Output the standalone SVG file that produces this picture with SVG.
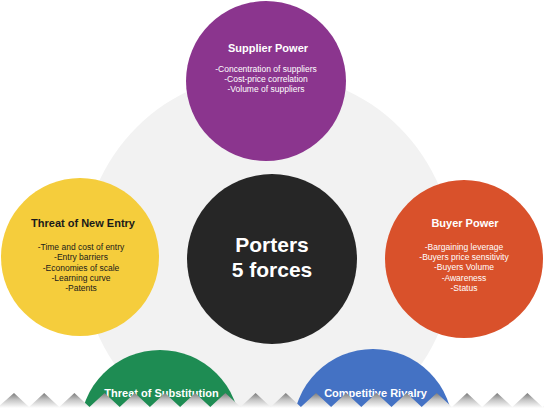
<svg xmlns="http://www.w3.org/2000/svg" width="544" height="409" viewBox="0 0 544 409">
<style>
.t{font-family:"Liberation Sans",Arial,sans-serif;font-weight:bold;font-size:11px;text-anchor:middle}
.b{font-family:"Liberation Sans",Arial,sans-serif;font-size:8.5px;text-anchor:middle}
.w{fill:#ffffff}
.k{fill:#1a1a1a}
.big{font-family:"Liberation Sans",Arial,sans-serif;font-weight:bold;font-size:21px;text-anchor:middle;fill:#ffffff}
</style>
<defs>
<linearGradient id="tear" gradientUnits="userSpaceOnUse" x1="0" y1="393" x2="0" y2="408">
<stop offset="0" stop-color="#7a7a7a"/>
<stop offset="0.45" stop-color="#c4c4c4"/>
<stop offset="1" stop-color="#ffffff"/>
</linearGradient>
</defs>
<rect width="544" height="409" fill="#ffffff"/>
<g id="background"><circle cx="268" cy="259" r="186" fill="#f2f2f2"/></g>
<g id="supplier-power">
<circle cx="266" cy="81" r="80" fill="#8b358e"/>
<text class="t w" x="268" y="51.5">Supplier Power</text>
<text class="b w" x="266" y="72">-Concentration of suppliers</text>
<text class="b w" x="266" y="82">-Cost-price correlation</text>
<text class="b w" x="266" y="92">-Volume of suppliers</text>
</g>
<g id="threat-new-entry">
<circle cx="80" cy="257" r="79" fill="#f5cd3c"/>
<text class="t k" x="83" y="227">Threat of New Entry</text>
<text class="b k" x="81" y="250">-Time and cost of entry</text>
<text class="b k" x="81" y="260">-Entry barriers</text>
<text class="b k" x="81" y="270.5">-Economies of scale</text>
<text class="b k" x="81" y="281">-Learning curve</text>
<text class="b k" x="81" y="291">-Patents</text>
</g>
<g id="buyer-power">
<circle cx="464" cy="259" r="79" fill="#d9512b"/>
<text class="t w" x="465" y="227">Buyer Power</text>
<text class="b w" x="464" y="249.5">-Bargaining leverage</text>
<text class="b w" x="464" y="259.5">-Buyers price sensitivity</text>
<text class="b w" x="464" y="270">-Buyers Volume</text>
<text class="b w" x="464" y="280.5">-Awareness</text>
<text class="b w" x="464" y="290.5">-Status</text>
</g>
<g id="porters-5-forces">
<circle cx="272" cy="259" r="85" fill="#262626"/>
<text class="big" x="272" y="251.5">Porters</text>
<text class="big" x="272" y="277">5 forces</text>
</g>
<g id="threat-substitution">
<circle cx="160" cy="430" r="80" fill="#1e8c53"/>
<text class="t w" x="161.5" y="397">Threat of Substitution</text>
</g>
<g id="competitive-rivalry">
<circle cx="373" cy="429" r="80" fill="#4472c4"/>
<text class="t w" x="375.5" y="397">Competitive Rivalry</text>
</g>
<g id="connectors"></g>
<g id="torn-edge">
<path fill="url(#tear)" d="M-2,407 L14,393 L29.1,407 L44.2,393 L59.3,407 L74.4,393 L89.5,407 L104.6,393 L119.7,407 L134.8,393 L149.9,407 L165,393 L180.1,407 L195.2,393 L210.3,407 L225.4,393 L240.5,407 L255.6,393 L270.7,407 L285.8,393 L300.9,407 L316,393 L331.1,407 L346.2,393 L361.3,407 L376.4,393 L391.5,407 L406.6,393 L421.7,407 L436.8,393 L451.9,407 L467,393 L482.1,407 L497.2,393 L512.3,407 L527.4,393 L542.5,407 L546,404 L546,411 L-2,411 Z"/>
</g>
</svg>
